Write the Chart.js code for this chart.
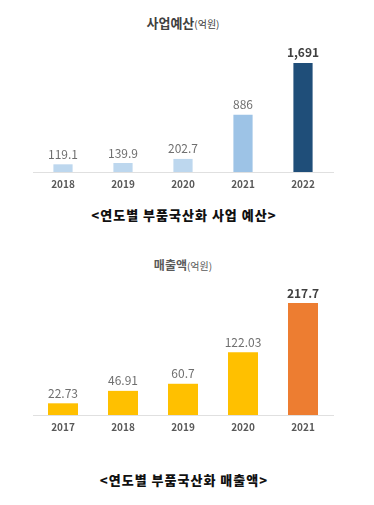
<!DOCTYPE html>
<html>
<head>
<meta charset="utf-8">
<script src="https://cdn.jsdelivr.net/npm/chart.js@4.4.0/dist/chart.umd.min.js"></script>
<style>
	* {
		box-sizing: border-box;
	}
	body {
		margin: 0;
		width: 374px;
		height: 505px;
		background: #fff;
		position: relative;
		font-family: "Noto Sans CJK KR", "Noto Sans", sans-serif;
		overflow: hidden;
	}
	.title {
		position: absolute;
		left: 0;
		width: 366px;
		text-align: center;
		font-weight: 700;
		color: #404040;
	}
	.title small {
		font-weight: 400;
		font-size: 10px;
	}
	.caption {
		position: absolute;
		left: 0;
		width: 368px;
		text-align: center;
		font-weight: 900;
		font-size: 13px;
		letter-spacing: 1px;
		color: #111;
	}
	.box {
		position: absolute;
		left: 0;
		width: 374px;
	}
</style>
</head>
<body>
<div class="title" style="top: 13px; font-size: 13px; line-height: 20px;">사업예산<small>(억원)</small></div>
<div class="box" style="top: 30px; height: 170px;"><canvas id="budget"></canvas></div>
<div class="caption" style="top: 205px; line-height: 20px;">&lt;연도별 부품국산화 사업 예산&gt;</div>

<div class="title" style="top: 255px; font-size: 12px; line-height: 20px; color: #595959;">매출액<small>(억원)</small></div>
<div class="box" style="top: 275px; height: 170px;"><canvas id="sales"></canvas></div>
<div class="caption" style="top: 470px; line-height: 20px;">&lt;연도별 부품국산화 매출액&gt;</div>

<script>
	const budgetYears = ["2018", "2019", "2020", "2021", "2022"];
	const budgetValues = [119.1, 139.9, 202.7, 886, 1691];
	const budgetColors = ["#bdd7ee", "#bdd7ee", "#bdd7ee", "#9dc3e6", "#1f4e79"];

	const salesYears = ["2017", "2018", "2019", "2020", "2021"];
	const salesValues = [22.73, 46.91, 60.7, 122.03, 217.7];
	const salesColors = ["#ffc000", "#ffc000", "#ffc000", "#ffc000", "#ed7d31"];

	const FONT = '"Noto Sans CJK KR", "Noto Sans", sans-serif';

	// numbers above each bar, last one bold
	const valueLabels = {
		id: "valueLabels",
		afterDatasetsDraw(chart) {
			const ctx = chart.ctx;
			const meta = chart.getDatasetMeta(0);
			const data = chart.data.datasets[0].data;
			ctx.save();
			ctx.textAlign = "center";
			ctx.textBaseline = "bottom";
			meta.data.forEach((bar, i) => {
				const last = i === data.length - 1;
				ctx.font = (last ? "700 " : "400 ") + "12px " + FONT;
				ctx.fillStyle = last ? "#404040" : "#6f6f6f";
				ctx.fillText(data[i].toLocaleString("en-US"), bar.x, bar.y - 4);
			});
			ctx.restore();
		},
	};

	function makeChart(id, labels, values, colors, barPct, yMax, pad) {
		return new Chart(document.getElementById(id), {
			type: "bar",
			data: {
				labels: labels,
				datasets: [
					{
						data: values,
						backgroundColor: colors,
						barPercentage: barPct,
						categoryPercentage: 1,
					},
				],
			},
			options: {
				responsive: true,
				maintainAspectRatio: false,
				animation: false,
				events: [],
				layout: { padding: pad },
				plugins: {
					legend: { display: false },
					tooltip: { enabled: false },
				},
				scales: {
					x: {
						grid: { display: false, drawTicks: false },
						border: { display: true, color: "#e0e0e0", width: 1 },
						ticks: {
							color: "#595959",
							padding: 6,
							font: { family: FONT, size: 10, weight: "700" },
						},
					},
					y: {
						display: false,
						min: 0,
						max: yMax,
					},
				},
			},
			plugins: [valueLabels],
		});
	}

	makeChart("budget", budgetYears, budgetValues, budgetColors, 0.32, 1968,
		{ top: 15, bottom: 4, left: 33, right: 41 });
	makeChart("sales", salesYears, salesValues, salesColors, 0.5, 252.7,
		{ top: 10, bottom: 6, left: 33, right: 41 });
</script>
</body>
</html>
